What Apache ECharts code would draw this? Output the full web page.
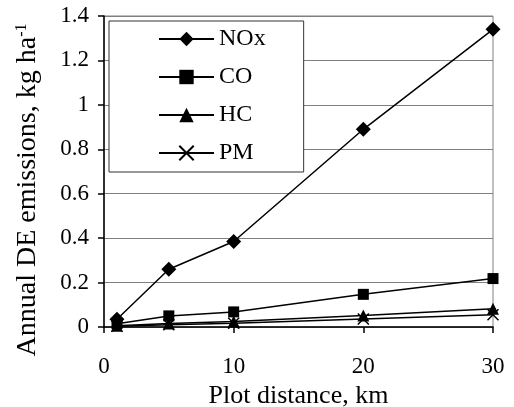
<!DOCTYPE html>
<html>
<head>
<meta charset="utf-8">
<script src="https://cdn.jsdelivr.net/npm/echarts@6/dist/echarts.min.js"></script>
<style>
html,body{margin:0;padding:0;background:#fff;}
#chart{width:514px;height:407px;}
</style>
</head>
<body>
<div id="chart"></div>
<script>
var distance = [1, 5, 10, 20, 30];
var nox = [0.035, 0.26, 0.385, 0.89, 1.34];
var co = [0.015, 0.05, 0.068, 0.147, 0.218];
var hc = [0.006, 0.016, 0.025, 0.052, 0.082];
var pm = [0.003, 0.01, 0.017, 0.036, 0.055];
var seriesNames = ['NOx', 'CO', 'HC', 'PM'];
var xTicks = [0, 10, 20, 30];
var yTicks = [0, 0.2, 0.4, 0.6, 0.8, 1, 1.2, 1.4];

var FONT = '"Liberation Serif", "Times New Roman", serif';
function pairs(vals) { return distance.map(function (d, i) { return [d, vals[i]]; }); }

var crossPath = 'path://M0,0 L10,10 M10,0 L0,10';

function mk(name, vals, symbol, size, extra) {
  var s = {
    name: name,
    type: 'line',
    data: pairs(vals),
    symbol: symbol,
    symbolSize: size,
    lineStyle: { color: '#000', width: 1.5 },
    itemStyle: { color: '#000' },
    animation: false
  };
  if (extra) Object.assign(s, extra);
  return s;
}

var chart = echarts.init(document.getElementById('chart'));
chart.setOption({
  animation: false,
  backgroundColor: '#fff',
  grid: { left: 104, right: 21, top: 16, bottom: 80, show: true, borderColor: '#808080', borderWidth: 1,
          containLabel: false, outerBoundsMode: 'none' },
  legend: {
    orient: 'vertical',
    left: 109, top: 21,
    padding: [6, 38, 7, 49],
    itemGap: 14,
    itemWidth: 55, itemHeight: 18,
    backgroundColor: '#fff',
    borderColor: '#333', borderWidth: 1,
    textStyle: { fontFamily: FONT, fontSize: 24, color: '#000' },
    data: seriesNames
  },
  xAxis: {
    type: 'value', min: xTicks[0], max: xTicks[xTicks.length - 1], interval: 10,
    name: 'Plot distance, km', nameLocation: 'middle', nameGap: 49,
    nameTextStyle: { fontFamily: FONT, fontSize: 26, color: '#000' },
    axisLine: { show: true, onZero: false, lineStyle: { color: '#000', width: 1.5 } },
    axisTick: { show: true, length: 6, lineStyle: { color: '#000', width: 1.5 } },
    axisLabel: { fontFamily: FONT, fontSize: 23, color: '#000', margin: 28 },
    splitLine: { show: false }
  },
  yAxis: {
    type: 'value', min: yTicks[0], max: yTicks[yTicks.length - 1], interval: 0.2,
    axisLine: { show: true, lineStyle: { color: '#000', width: 1.5 } },
    axisTick: { show: true, length: 6, lineStyle: { color: '#000', width: 1.5 } },
    axisLabel: { fontFamily: FONT, fontSize: 23, color: '#000', margin: 15 },
    splitLine: { show: true, lineStyle: { color: '#808080', width: 1 } }
  },
  graphic: [{
    type: 'text',
    x: 28, y: 190,
    rotation: Math.PI / 2,
    style: {
      text: 'Annual DE emissions, kg ha{sup|-1}',
      fontFamily: FONT, fontSize: 28, fill: '#000',
      align: 'center', verticalAlign: 'middle',
      rich: { sup: { fontFamily: FONT, fontSize: 16, verticalAlign: 'top', fill: '#000' } }
    }
  }],
  series: [
    mk('NOx', nox, 'diamond', 15),
    mk('CO', co, 'rect', 11),
    mk('HC', hc, 'triangle', 12),
    mk('PM', pm, crossPath, 11, { itemStyle: { color: '#000', borderColor: '#000', borderWidth: 1.5 } })
  ]
});
</script>
</body>
</html>
